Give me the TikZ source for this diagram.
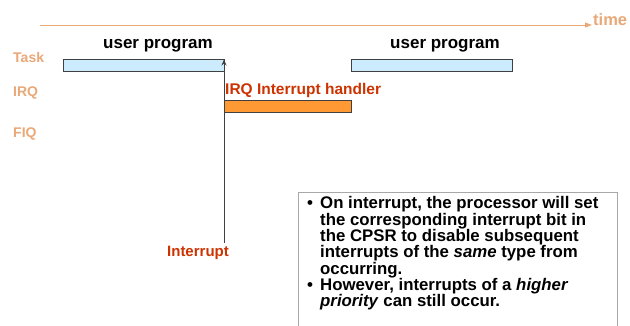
\documentclass[tikz,border=0pt]{standalone}
\usepackage{fontspec}
\setmainfont{Liberation Sans}
\usetikzlibrary{arrows.meta}
\definecolor{axiscol}{HTML}{E8A878}
\definecolor{handlercol}{HTML}{CC3300}
\definecolor{irqfill}{HTML}{FF9933}
\definecolor{taskfill}{HTML}{CCEBFD}
\definecolor{barline}{HTML}{404040}
\definecolor{boxline}{HTML}{A8A8A8}
\tikzset{
  rowlabel/.style={font=\fontsize{14}{14}\selectfont\bfseries, text=axiscol, inner sep=0pt},
  barlabel/.style={font=\fontsize{17}{17}\selectfont\bfseries, inner sep=0pt},
  redlabel/.style={font=\fontsize{15.5}{15.5}\selectfont\bfseries, text=handlercol, inner sep=0pt},
  taskbar/.style={draw=barline, fill=taskfill, line width=0.9pt},
  irqbar/.style={draw=barline, fill=irqfill, line width=0.9pt},
}
\begin{document}
\begin{tikzpicture}[x=1pt,y=-1pt]
\useasboundingbox (0,0) rectangle (630,325);
\clip (0,0) rectangle (630,325);

% time axis
\coordinate (t0) at (40,25);
\coordinate (t1) at (592,25);
\draw[axiscol, line width=0.9pt, -{Stealth[length=7pt,width=5pt,inset=0pt]}] (t0) -- (t1);
\node[rowlabel, font=\fontsize{16.5}{16.5}\selectfont\bfseries, anchor=west] (time) at (593,20) {time};

% row labels
\node[rowlabel, anchor=west] (task) at (13,57) {Task};
\node[rowlabel, anchor=west] (irq) at (13,93) {IRQ};
\node[rowlabel, anchor=west] (fiq) at (13,134) {FIQ};

% task bars
\draw[taskbar] (63,59) rectangle (224,71);
\draw[taskbar] (351,59) rectangle (512,71);
\node[barlabel] (up1) at (158,46) {user program};
\node[barlabel] (up2) at (445,46) {user program};

% interrupt handler bar
\draw[irqbar] (224,100) rectangle (351,112);
\node[redlabel, anchor=west] (handler) at (225,90) {IRQ Interrupt handler};

% interrupt event
\node[redlabel, font=\fontsize{15}{15}\selectfont\bfseries] (intr) at (198,253) {Interrupt};
\coordinate (intstart) at (224,243);
\coordinate (intend) at (224,59.5);
\draw[black!75, line width=0.8pt, -{Stealth[length=6pt,width=5pt]}] (intstart) -- (intend);

% note box
\draw[boxline, line width=0.8pt, fill=white] (298,192) rectangle (617,340);
\node[anchor=north west, inner sep=0pt, align=left,
      font=\fontsize{16.8}{16.3}\selectfont\bfseries] (notes) at (307,196.5)
{\makebox[13pt][l]{•}On interrupt, the processor will set\\
 \hspace*{13pt}the corresponding interrupt bit in\\
 \hspace*{13pt}the CPSR to disable subsequent\\
 \hspace*{13pt}interrupts of the \textit{same} type from\\
 \hspace*{13pt}occurring.\\
 \makebox[13pt][l]{•}However, interrupts of a \textit{higher}\\
 \hspace*{13pt}\textit{priority} can still occur.};
\end{tikzpicture}
\end{document}
